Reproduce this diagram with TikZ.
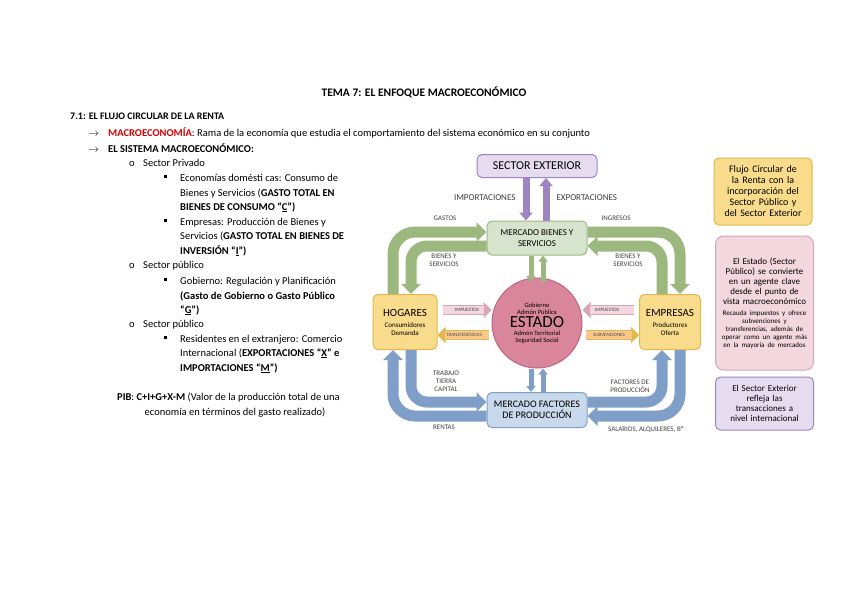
\documentclass[tikz,border=0pt]{standalone}
\usepackage{fontspec}
\setmainfont{Carlito}
\usetikzlibrary{arrows.meta}
\definecolor{gA}{HTML}{9DB87F}\definecolor{gF}{HTML}{D7E4CD}
\definecolor{bA}{HTML}{7F9FC8}\definecolor{bF}{HTML}{C9D9EC}
\definecolor{pA}{HTML}{9B86C2}\definecolor{pF}{HTML}{E6DCF0}
\definecolor{yF}{HTML}{F8DC8C}\definecolor{yA}{HTML}{E2B84C}
\definecolor{rF}{HTML}{D9869C}\definecolor{rA}{HTML}{C06482}
\definecolor{kF}{HTML}{F2D7DF}\definecolor{kA}{HTML}{D9A6B7}
\definecolor{oF}{HTML}{F9C98C}
\hyphenpenalty=10000
\begin{document}
\begin{tikzpicture}[x=1pt,y=-1pt,
 txt/.style={anchor=base west,inner sep=0pt,font=\fontsize{10.5}{12}\selectfont},
 box/.style={draw,rounded corners=5pt,line width=1pt,align=center,inner sep=2pt,font=\fontsize{9}{10.5}\selectfont},
 lab/.style={font=\fontsize{7}{8}\selectfont,align=center,text=black!75},
 big/.style={line width=11pt,-{Triangle[width=19pt,length=10pt]}},
 thin/.style={line width=5pt,-{Triangle[width=9pt,length=6pt]}},
 side/.style={box,font=\fontsize{9}{10}\selectfont,text width=86pt,inner ysep=1pt,inner xsep=6pt}]
\useasboundingbox (0,0) rectangle (848,599);
\fill[white] (0,0) rectangle (848,599);
% ---- text
\node[anchor=base,font=\fontsize{11.5}{13}\selectfont\bfseries] (title) at (424,97) {TEMA 7: EL ENFOQUE MACROECONÓMICO};
\node[txt,font=\fontsize{10}{12}\selectfont\bfseries] (t1) at (70,120) {7.1: EL FLUJO CIRCULAR DE LA RENTA};
\node[txt] (a1) at (88,136) {$\rightarrow$};
\node[txt] (t2) at (108,136) {\textcolor{red!85!black}{\bfseries MACROECONOMÍA}: Rama de la economía que estudia el comportamiento del sistema económico en su conjunto};
\node[txt] (a2) at (88,152) {$\rightarrow$};
\node[txt] (t3) at (108,152) {\bfseries EL SISTEMA MACROECONÓMICO:};
\foreach \y/\s in {166/Sector Privado,268/Sector público,327/Sector público}{
 \node[txt] at (129,\y) {o};
 \node[txt] at (143,\y) {\s};}
\foreach \y in {181,225,284,342}{\fill (164,\y-3) rectangle ++(3,-3);}
\node[txt] at (180,181) {Economías domésti cas: Consumo de};
\node[txt] at (180,196) {Bienes y Servicios (\textbf{GASTO TOTAL EN}};
\node[txt] at (180,210) {\textbf{BIENES DE CONSUMO “\underline{C}”)}};
\node[txt] at (180,225) {Empresas: Producción de Bienes y};
\node[txt] at (180,239) {Servicios (\textbf{GASTO TOTAL EN BIENES DE}};
\node[txt] at (180,254) {\textbf{INVERSIÓN “\underline{I}”)}};
\node[txt] at (180,284) {Gobierno: Regulación y Planificación};
\node[txt] at (180,299) {\textbf{(Gasto de Gobierno o Gasto Público}};
\node[txt] at (180,313) {\textbf{“\underline{G}”)}};
\node[txt] at (180,342) {Residentes en el extranjero: Comercio};
\node[txt] at (180,356) {Internacional (\textbf{EXPORTACIONES “\underline{X}” e}};
\node[txt] at (180,371) {\textbf{IMPORTACIONES “\underline{M}”)}};
\node[txt] at (117,400) {\textbf{PIB}: \textbf{C+I+G+X-M} (Valor de la producción total de una};
\node[txt,anchor=base] at (235,415) {economía en términos del gasto realizado)};
% ---- diagram nodes
\node[box,draw=pA,fill=pF,minimum width=120pt,minimum height=23pt,font=\fontsize{12}{14}\selectfont] (se) at (537,166) {SECTOR EXTERIOR};
\node[box,draw=gA,fill=gF,minimum width=100pt,minimum height=34pt] (mb) at (537,238) {MERCADO BIENES Y\\SERVICIOS};
\node[box,draw=bA,fill=bF,minimum width=100pt,minimum height=35pt,font=\fontsize{10}{11.5}\selectfont] (mf) at (537,410) {MERCADO FACTORES\\DE PRODUCCIÓN};
\node[circle,draw=rA,fill=rF,line width=1pt,minimum size=90pt,inner sep=0pt,align=center,font=\fontsize{6.5}{7}\selectfont] (est) at (537,323)
 {Gobierno\\Admón Pública\\[1pt]{\fontsize{17}{18}\selectfont ESTADO}\\[1pt]Admón Territorial\\Seguridad Social};
\node[box,draw=yA,fill=yF,minimum width=64pt,minimum height=55pt,font=\fontsize{7}{8}\selectfont] (hog) at (405,322) {{\fontsize{11}{12}\selectfont HOGARES}\\[3pt]Consumidores\\Demanda};
\node[box,draw=yA,fill=yF,minimum width=61pt,minimum height=55pt,font=\fontsize{7}{8}\selectfont] (emp) at (670,322) {{\fontsize{11}{12}\selectfont EMPRESAS}\\[3pt]Productores\\Oferta};
% ---- purple arrows
\draw[thin,pA,line width=7pt,-{Triangle[width=13pt,length=8pt]}] ([xshift=-11pt]se.south) -- ([xshift=-11pt]mb.north) coordinate (imp);
\draw[thin,pA,line width=7pt,-{Triangle[width=13pt,length=8pt]}] ([xshift=9pt]mb.north) -- ([xshift=9pt]se.south) coordinate (exp);
\node[lab,anchor=east,font=\fontsize{9}{10}\selectfont] (limp) at (519,198) {IMPORTACIONES};
\node[lab,anchor=west,font=\fontsize{9}{10}\selectfont] (lexp) at (553,198) {EXPORTACIONES};
% ---- green arrows
\draw[big,gA,rounded corners=22pt] ([xshift=-12pt]hog.north) |- ([yshift=6pt]mb.west);
\draw[big,gA,rounded corners=16pt] ([yshift=-8pt]mb.west) -| ([xshift=6pt]hog.north);
\draw[big,gA,rounded corners=22pt] ([yshift=6pt]mb.east) -| ([xshift=10pt]emp.north);
\draw[big,gA,rounded corners=16pt] ([xshift=-8pt]emp.north) |- ([yshift=-8pt]mb.east);
\draw[thin,gA] ([xshift=-6pt]mb.south) -- ([xshift=-6pt]est.north|-0,282);
\draw[thin,gA] ([xshift=6pt]est.north|-0,282) -- ([xshift=6pt]mb.south);
\node[lab] (lg) at (445,218) {GASTOS};
\node[lab] (li) at (616,218) {INGRESOS};
\node[lab] (lb1) at (444,260) {BIENES Y\\SERVICIOS};
\node[lab] (lb2) at (628,260) {BIENES Y\\SERVICIOS};
% ---- blue arrows
\draw[big,bA,rounded corners=16pt] ([xshift=6pt]hog.south) |- ([yshift=8pt]mf.west);
\draw[big,bA,rounded corners=22pt] ([yshift=-6pt]mf.west) -| ([xshift=-12pt]hog.south);
\draw[big,bA,rounded corners=16pt] ([yshift=8pt]mf.east) -| ([xshift=-8pt]emp.south);
\draw[big,bA,rounded corners=22pt] ([xshift=10pt]emp.south) |- ([yshift=-6pt]mf.east);
\draw[thin,bA] ([xshift=-6pt]est.south) -- ([xshift=-6pt]mf.north);
\draw[thin,bA] ([xshift=6pt]mf.north) -- ([xshift=6pt]est.south);
\node[lab] (ltr) at (446,381) {TRABAJO\\TIERRA\\CAPITAL};
\node[lab] (lr) at (444,427) {RENTAS};
\node[lab] (lfp) at (630,386) {FACTORES DE\\PRODUCCIÓN};
\node[lab] (ls) at (646,430) {SALARIOS, ALQUILERES, Bº};
% ---- horizontal arrows
\tikzset{harr/.style={line width=10pt,-{Triangle[width=16pt,length=8pt]}}}
\draw[harr,kA] ([yshift=12pt]hog.east) ++(5pt,0) coordinate (h1) -- ([yshift=12pt]hog.east -| est.west) coordinate (h2);
\draw[line width=8.5pt,kF,shorten >=1pt] (h1) -- ([xshift=-7pt]h2);
\node[lab,font=\fontsize{5}{6}\selectfont] (li1) at (467,310) {IMPUESTOS};
\draw[harr,kA] ([yshift=12pt]emp.west) ++(-5pt,0) coordinate (e1) -- ([yshift=12pt]emp.west -| est.east) coordinate (e2);
\draw[line width=8.5pt,kF] (e1) -- ([xshift=7pt]e2);
\node[lab,font=\fontsize{5}{6}\selectfont] (li2) at (607,310) {IMPUESTOS};
\draw[harr,yA] ([yshift=-13pt]hog.east -| est.west) ++(-3pt,0) coordinate (t1a) -- ([yshift=-13pt]hog.east) coordinate (t1b);
\draw[line width=8.5pt,oF] (t1a) -- ([xshift=7pt]t1b);
\node[lab,font=\fontsize{5}{6}\selectfont,text=black!70] (ltf) at (464,335) {TRANSFERENCIAS};
\draw[harr,yA] ([yshift=-13pt]emp.west -| est.east) ++(3pt,0) coordinate (s1a) -- ([yshift=-13pt]emp.west) coordinate (s1b);
\draw[line width=8.5pt,oF] (s1a) -- ([xshift=-7pt]s1b);
\node[lab,font=\fontsize{5}{6}\selectfont,text=black!70] (lsb) at (609,335) {SUBVENCIONES};
% ---- side boxes
\node[side,draw=yA,fill=yF,minimum height=67pt,font=\fontsize{10}{11}\selectfont] (s1) at (763,191.5) {Flujo Circular de la Renta con la incorporación del Sector Público y del Sector Exterior};
\node[side,draw=kA,fill=kF,minimum height=134pt,rounded corners=8pt] (s2) at (764.5,303) {El Estado (Sector Público) se convierte en un agente clave desde el punto de vista macroeconómico\par\vspace{3pt}{\centering\fontsize{7}{8}\selectfont Recauda impuestos y ofrece subvenciones y transferencias, además de operar como un agente más en la mayoría de mercados\par}};
\node[side,draw=pA,fill=pF,minimum height=53pt] (s3) at (764.5,403.5) {El Sector Exterior refleja las transacciones a nivel internacional};
\end{tikzpicture}
\end{document}
